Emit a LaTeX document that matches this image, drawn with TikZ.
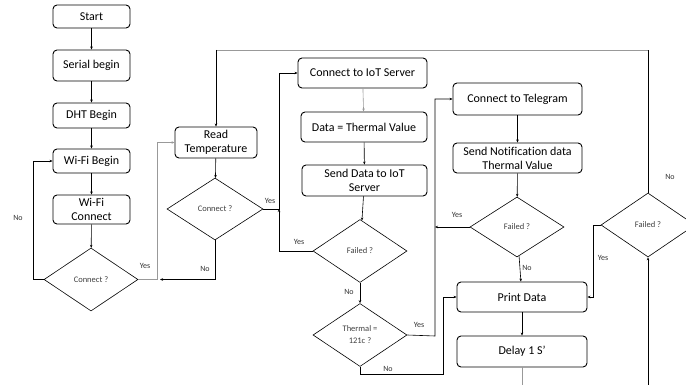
\documentclass[tikz,border=0pt]{standalone}
\usepackage{fontspec}
\setmainfont[Ligatures=NoCommon]{Carlito}
\usetikzlibrary{shapes.geometric,arrows.meta}
\begin{document}
\begin{tikzpicture}[x=1pt,y=-1pt,
 box/.style={draw, rounded corners=4pt, line width=0.9pt, inner sep=1pt, align=center, font=\fontsize{12}{14}\selectfont},
 dia/.style={draw, diamond, line width=0.6pt, inner sep=0pt, minimum width=94pt, minimum height=63pt, font=\fontsize{8.5}{12}\selectfont, align=center, text=black!75},
 lab/.style={font=\fontsize{8}{9}\selectfont, text=black!80},
 ar/.style={-{Stealth[length=3pt,width=2.5pt]}, line width=0.6pt},
 ln/.style={line width=0.6pt},
 gr/.style={draw=black!40}]
\useasboundingbox (0,0) rectangle (686,385);
% boxes
\node[box, minimum width=77pt, minimum height=23pt] (start) at (91.5,16.5) {Start};
\node[box, minimum width=77pt, minimum height=31pt] (serial) at (91.5,65.5) {Serial begin};
\node[box, minimum width=77pt, minimum height=25pt] (dht) at (91.5,115.5) {DHT Begin};
\node[box, minimum width=77pt, minimum height=24pt] (wb) at (91.5,161) {Wi-Fi Begin};
\node[box, minimum width=77pt, minimum height=29pt] (wc) at (91.5,209.5) {Wi-Fi\\Connect};
\node[dia] (c1) at (91,279.5) {Connect ?};
\node[box, minimum width=82pt, minimum height=31pt] (rt) at (216,142.5) {Read\\Temperature};
\node[dia, minimum width=96pt, minimum height=62pt] (c2) at (215,209) {Connect ?};
\node[box, minimum width=129pt, minimum height=30pt] (iot) at (362.5,73) {Connect to IoT Server};
\node[box, minimum width=126pt, minimum height=30pt] (data) at (364,127) {Data = Thermal Value};
\node[box, minimum width=125pt, minimum height=31pt] (send) at (364.5,180.5) {Send Data to IoT\\Server};
\node[dia] (f1) at (360,251) {Failed ?};
\node[dia] (th) at (360,335) {Thermal =\\121c ?};
\node[box, minimum width=129pt, minimum height=32pt] (tg) at (517.5,99) {Connect to Telegram};
\node[box, minimum width=129pt, minimum height=30pt] (notif) at (517.5,158) {Send Notification data\\Thermal Value};
\node[dia, minimum height=60pt] (f2) at (517,227) {Failed ?};
\node[box, minimum width=130pt, minimum height=30pt] (pd) at (522,297) {Print Data};
\node[box, minimum width=130pt, minimum height=31pt] (dl) at (522,351.5) {Delay 1 S’};
\node[dia, minimum height=64pt] (f3) at (648,225) {Failed ?};
% coordinates
\coordinate (l1) at (33,279.5);
\coordinate (y1) at (157,279.5);
\coordinate (n2) at (215,279.5);
\coordinate (n2e) at (160,279.5);
\coordinate (j) at (279,209);
\coordinate (k) at (435,336);
\coordinate (m1) at (360,374);
\coordinate (m2) at (443,374);
\coordinate (b1) at (522,385);
\coordinate (b2) at (648,385);
\coordinate (t1) at (648,50);
\coordinate (t0) at (216,50);
\coordinate (r1) at (593,225);
% connectors
\draw[ar] (start) -- (serial);
\draw[ar] (serial) -- (dht);
\draw[ar] (dht) -- (wb);
\draw[ar] (wb) -- (wc);
\draw[ar] (wc) -- (c1);
\draw[ar] (c1.west) -- (l1) |- (wb.west);
\draw[ar, gr] (c1.east) -- (y1) |- (rt.west);
\draw[ar] (rt) -- (c2);
\draw[ar] (c2.south) -- (n2) -- (n2e);
\draw[ar] (c2.east) -- (j) |- (iot.west);
\draw[ar] (f1.west) -| (j);
\draw[ar, gr] (iot) -- (data);
\draw[ar] (data) -- (send);
\draw[ar] (send) -- (f1);
\draw[ar] (f1) -- (th);
\draw[ar] (th.east) -- (k) |- (tg.west);
\draw[ar] (th.south) -- (m1) -- (m2) |- (pd.west);
\draw[ar] (tg) -- (notif);
\draw[ar] (notif) -- (f2);
\draw[ar] (f2.west) -- (k |- f2.west);
\draw[ar] (f2) -- (pd);
\draw[ar] (pd) -- (dl);
\draw[ln, gr] (dl.south) -- (b1);
\draw[ar] (b2) -- (f3.south);
\draw[ln] (f3.north) -- (t1);
\draw[ln, gr] (t1) -- (t0);
\draw[ar] (t0) -- (rt.north);
\draw[ar] (f3.west) -- (r1) |- (pd.east);
% labels
\node[lab] (lno1) at (18,218) {No};
\node[lab] (lyes1) at (145,266) {Yes};
\node[lab] (lno2) at (205,269) {No};
\node[lab] (lyes2) at (270,201) {Yes};
\node[lab] (lyes3) at (299,242) {Yes};
\node[lab] (lno3) at (349,292) {No};
\node[lab] (lyes4) at (419,325) {Yes};
\node[lab] (lno4) at (388,369) {No};
\node[lab] (lyes5) at (457,215) {Yes};
\node[lab] (lno5) at (527,268) {No};
\node[lab] (lno6) at (670,177) {No};
\node[lab] (lyes6) at (603,258) {Yes};
\end{tikzpicture}
\end{document}
